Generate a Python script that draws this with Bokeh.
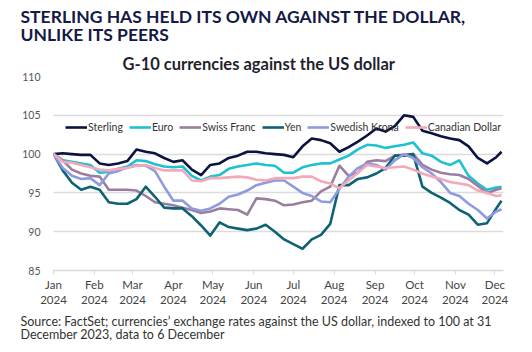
import pandas as pd
from bokeh.plotting import figure
from bokeh.models import FixedTicker, Range1d, Legend, Title
from bokeh.embed import file_html
from bokeh.resources import INLINE

# ---- data (index, 31 Dec 2023 = 100), weekly readings ----
dates = list(pd.date_range("2024-01-01", periods=49, freq="7D")) + [pd.Timestamp("2024-12-06")]

sterling = [100.0, 100.1, 100.0, 99.9, 99.9, 98.8, 98.6, 98.8, 99.1, 100.6,
            100.3, 100.1, 99.5, 99.0, 99.2, 98.0, 97.3, 98.6, 98.8, 99.5,
            99.8, 100.3, 100.3, 100.1, 100.0, 99.9, 99.6, 101.0, 102.0, 101.8,
            101.4, 100.3, 100.9, 101.6, 102.4, 103.3, 102.9, 103.6, 105.0, 104.8,
            103.0, 102.7, 102.3, 102.0, 101.8, 101.0, 99.5, 98.8, 99.6, 100.3]
euro = [100.0, 99.2, 99.0, 98.8, 98.6, 97.6, 97.7, 98.1, 98.4, 99.2,
        99.1, 98.7, 98.4, 98.3, 98.4, 97.2, 96.6, 97.1, 97.3, 98.1,
        98.4, 98.6, 98.8, 98.6, 98.5, 97.6, 97.6, 98.3, 98.6, 98.8,
        98.8, 99.3, 99.8, 100.6, 101.2, 101.1, 100.8, 101.0, 101.2, 101.5,
        100.1, 99.8, 99.0, 98.6, 99.2, 97.2, 96.2, 95.4, 95.7, 95.8]
swiss_franc = [100.0, 99.2, 98.0, 97.5, 97.2, 97.1, 95.4, 95.4, 95.4, 95.3,
               94.6, 93.8, 93.6, 93.4, 93.1, 92.8, 92.4, 92.6, 93.0, 92.9,
               92.8, 92.2, 94.3, 94.2, 94.0, 93.4, 93.5, 93.8, 94.0, 95.2,
               95.8, 98.5, 97.2, 97.6, 99.0, 99.2, 99.1, 99.8, 99.9, 100.0,
               98.6, 98.0, 97.6, 97.4, 97.3, 96.8, 95.9, 95.0, 95.4, 95.6]
yen = [100.0, 97.9, 96.3, 95.4, 95.8, 95.4, 93.8, 93.6, 93.6, 94.2,
       95.8, 94.5, 93.1, 93.0, 93.0, 92.0, 90.8, 89.5, 91.2, 90.6,
       90.4, 90.2, 90.4, 90.9, 90.0, 89.0, 88.4, 87.8, 89.0, 89.6,
       91.0, 96.0, 96.0, 96.8, 97.0, 97.5, 98.2, 99.8, 99.8, 100.0,
       95.8, 95.0, 94.4, 93.7, 92.8, 92.2, 90.9, 91.1, 93.0, 94.0]
swedish_krona = [100.0, 98.2, 97.2, 96.8, 96.9, 96.0, 97.5, 97.8, 98.3, 98.6,
                 98.5, 97.8, 95.8, 94.0, 94.0, 93.0, 92.7, 93.0, 93.6, 94.5,
                 94.8, 95.3, 96.0, 96.3, 96.6, 96.6, 95.8, 95.0, 94.6, 93.9,
                 93.8, 95.5, 97.1, 98.2, 98.8, 98.6, 98.0, 99.2, 100.0, 99.5,
                 98.3, 97.5, 96.4, 95.0, 94.6, 93.6, 92.8, 91.7, 92.6, 92.9]
canadian_dollar = [100.0, 99.0, 98.9, 98.6, 98.3, 98.0, 97.9, 98.1, 98.2, 98.5,
                   98.6, 98.2, 97.9, 97.9, 97.9, 96.6, 96.5, 96.9, 96.9, 97.0,
                   97.1, 97.0, 96.7, 96.6, 96.9, 96.9, 96.9, 97.1, 97.1, 96.5,
                   96.2, 95.6, 96.6, 97.6, 98.6, 98.4, 98.2, 98.3, 98.4, 98.0,
                   97.5, 97.1, 96.8, 96.4, 96.2, 96.0, 95.3, 95.0, 94.6, 94.7]

series_names = ["Sterling", "Euro", "Swiss Franc", "Yen", "Swedish Krona", "Canadian Dollar"]
series_values = [sterling, euro, swiss_franc, yen, swedish_krona, canadian_dollar]
series_colors = ["#0B1340", "#1CC2D2", "#9B7E9F", "#0D6275", "#8D9BE0", "#F3A9B8"]

month_starts = list(pd.date_range("2024-01-01", "2024-12-01", freq="MS"))
month_labels = [f"{d.strftime('%b')}\n2024" for d in month_starts]
y_ticks = [85, 90, 95, 100, 105, 110]

headline = "STERLING HAS HELD ITS OWN AGAINST THE DOLLAR,\nUNLIKE ITS PEERS"
subtitle = "G-10 currencies against the US dollar"
source = ("Source: FactSet; currencies\u2019 exchange rates against the US dollar, indexed to 100 at 31\n"
          "December 2023, data to 6 December")

FONT = "Lato"

p = figure(width=532, height=352, x_axis_type="datetime",
           output_backend="svg", toolbar_location=None,
           min_border_left=53, min_border_right=29,
           min_border_top=76, min_border_bottom=82)
p.x_range = Range1d(pd.Timestamp("2024-01-01"), pd.Timestamp("2024-12-07 12:00"))
p.y_range = Range1d(85, 110)
p.outline_line_color = None
p.background_fill_color = "white"
p.border_fill_color = "white"

items = []
for name, vals, col in zip(series_names, series_values, series_colors):
    r = p.line(dates, vals, line_color=col, line_width=2.6, line_join="round")
    items.append((name, [r]))

legend = Legend(items=items, orientation="horizontal", location=(12, 136),
                label_text_font=FONT, label_text_font_size="10.5px",
                label_text_color="#333333", glyph_width=22, glyph_height=14,
                label_height=14, label_width=10, label_standoff=1, spacing=6,
                padding=0, margin=0, border_line_color=None, background_fill_alpha=0)
p.add_layout(legend)

# axes
tick_ms = [d.value // 10**6 for d in month_starts]
p.xaxis.ticker = FixedTicker(ticks=tick_ms)
p.xaxis.major_label_overrides = {t: l for t, l in zip(tick_ms, month_labels)}
p.xaxis.axis_line_color = "#d9d9d9"
p.xaxis.axis_line_width = 1.5
p.xaxis.major_tick_line_color = "#d9d9d9"
p.xaxis.major_tick_out = 4
p.xaxis.major_tick_in = 0
p.xaxis.minor_tick_line_color = None
p.xaxis.major_label_text_font = FONT
p.xaxis.major_label_text_font_size = "11.5px"
p.xaxis.major_label_text_color = "#444444"
p.xaxis.major_label_standoff = 3

p.yaxis.ticker = FixedTicker(ticks=y_ticks)
p.yaxis.axis_line_color = None
p.yaxis.major_tick_line_color = None
p.yaxis.minor_tick_line_color = None
p.yaxis.major_label_text_font = FONT
p.yaxis.major_label_text_font_size = "10.5px"
p.yaxis.major_label_text_color = "#555555"
p.yaxis.major_label_standoff = 7

p.xgrid.grid_line_color = None
p.ygrid.grid_line_color = "#dcdcdc"
p.ygrid.grid_line_width = 1.5

# headline = plot title (outermost); subtitle nearest the frame
p.title.text = headline
p.title.align = "left"
p.title.offset = -33
p.title.text_font = FONT
p.title.text_font_size = "17.5px"
p.title.text_font_style = "bold"
p.title.text_color = "#141A45"
p.title.text_line_height = 0.87
p.title.standoff = 7

p.add_layout(Title(text=subtitle, align="left", offset=69, text_font=FONT,
                   text_font_size="16.5px", text_font_style="bold",
                   text_color="#1F1F2E", text_line_height=0.8, standoff=6), "above")
p.add_layout(Title(text=source, align="left", offset=-33, text_font=FONT,
                   text_font_size="12.5px", text_font_style="normal",
                   text_color="#333333", text_line_height=0.85, standoff=5), "below")

open("out.html", "w").write(file_html(p, INLINE))
